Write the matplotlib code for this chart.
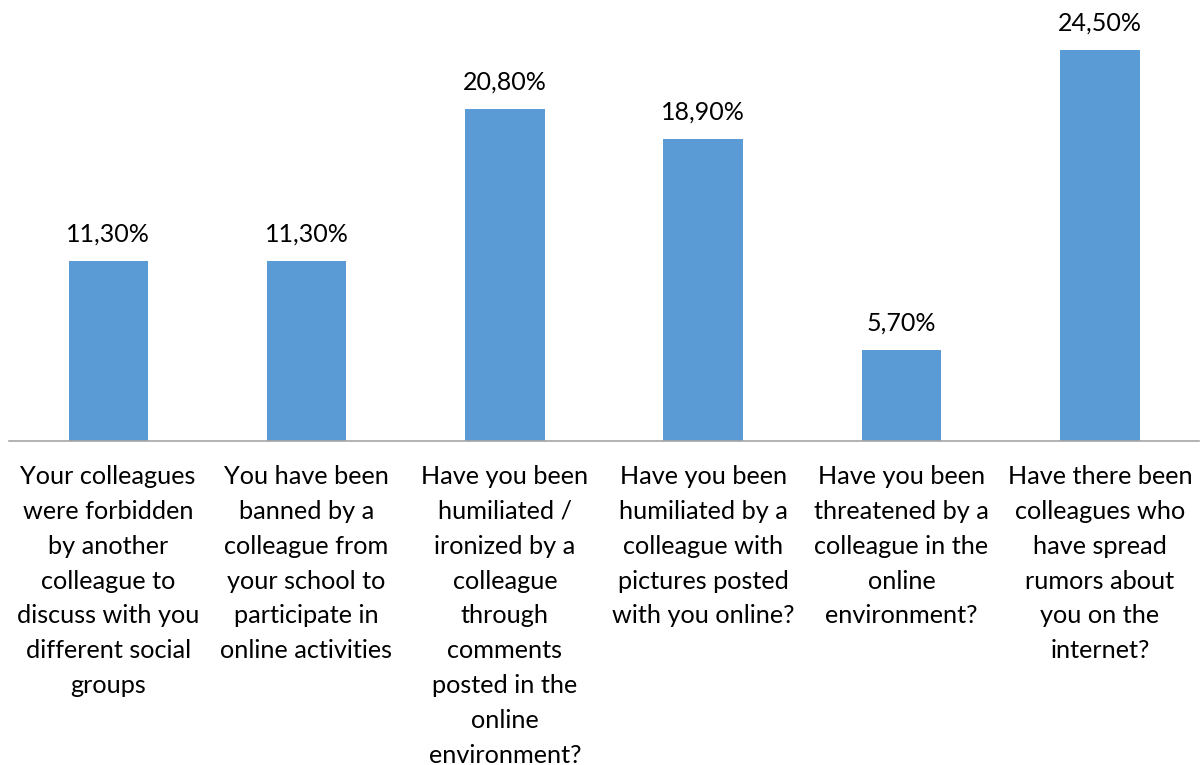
import matplotlib.pyplot as plt

plt.rcParams['font.family'] = ['Lato', 'DejaVu Sans']

categories = [
    "Your colleagues\nwere forbidden\nby another\ncolleague to\ndiscuss with you\ndifferent social\ngroups",
    "You have been\nbanned by a\ncolleague from\nyour school to\nparticipate in\nonline activities",
    "Have you been\nhumiliated /\nironized by a\ncolleague\nthrough\ncomments\nposted in the\nonline\nenvironment?",
    "Have you been\nhumiliated by a\ncolleague with\npictures posted\nwith you online?",
    "Have you been\nthreatened by a\ncolleague in the\nonline\nenvironment?",
    "Have there been\ncolleagues who\nhave spread\nrumors about\nyou on the\ninternet?",
]
values = [11.3, 11.3, 20.8, 18.9, 5.7, 24.5]

fig = plt.figure(figsize=(12.03, 7.65), dpi=100)
ax = fig.add_axes([9 / 1203, 324 / 765, 1190 / 1203, 441 / 765])

x = range(len(values))
bars = ax.bar(x, values, width=0.40, color='#5B9BD5')

for xi, v in zip(x, values):
    ax.annotate(f"{v:.2f}%".replace('.', ','), (xi, v), xytext=(0, 11),
                textcoords='offset points', ha='center', va='bottom',
                fontsize=18, color='#000000')

ax.set_xlim(-0.5, len(values) - 0.5)
ax.set_ylim(0, 27.63)
ax.set_xticks(list(x))
ax.set_xticklabels(categories, fontsize=18.2, linespacing=1.63, va='top')
ax.tick_params(axis='x', length=0, pad=17)
ax.set_yticks([])
for side in ['top', 'left', 'right']:
    ax.spines[side].set_visible(False)
ax.spines['bottom'].set_color('#A6A6A6')
ax.spines['bottom'].set_linewidth(1.2)

fig.savefig('out.png', dpi=100)
